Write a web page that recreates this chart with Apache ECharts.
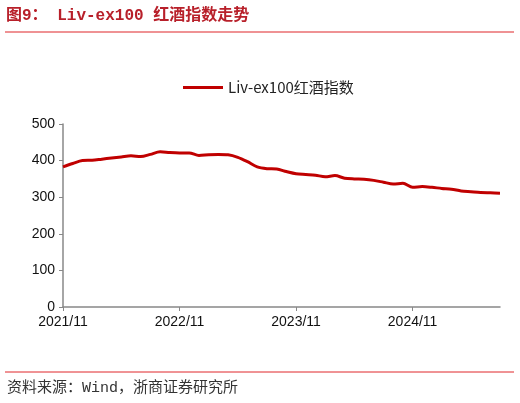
<!DOCTYPE html>
<html>
<head>
<meta charset="utf-8">
<script src="https://cdn.jsdelivr.net/npm/echarts@6/dist/echarts.min.js"></script>
<style>html,body{margin:0;padding:0;background:#fff;}#c{width:520px;height:403px;}</style>
</head>
<body>
<div id="c"></div>
<script>
const categories = [
 '2021/11','2021/12','2022/01','2022/02','2022/03','2022/04','2022/05','2022/06','2022/07','2022/08','2022/09','2022/10',
 '2022/11','2022/12','2023/01','2023/02','2023/03','2023/04','2023/05','2023/06','2023/07','2023/08','2023/09','2023/10',
 '2023/11','2023/12','2024/01','2024/02','2024/03','2024/04','2024/05','2024/06','2024/07','2024/08','2024/09','2024/10',
 '2024/11','2024/12','2025/01','2025/02','2025/03','2025/04','2025/05','2025/06','2025/07','2025/08'
];
const livex100 = [
 383,392,400,401,404,407,410,413,411,417,424,422,
 421,421,414,416,417,416,409,397,383,378,377,370,
 364,362,360,356,359,352,350,349,346,341,336,338,
 327,329,327,324,322,317,315,313,312,311
];
const yTicks = [0,100,200,300,400,500];
const seriesName = 'Liv-ex100红酒指数';

const chart = echarts.init(document.getElementById('c'));
chart.setOption({
  animation:false,
  backgroundColor:'#fff',
  graphic:[
    {type:'text',left:6,top:8,style:{text:'图9： Liv-ex100 红酒指数走势',font:'bold 16px "Liberation Mono", "Noto Sans CJK SC", monospace',fill:'#b8202a'}},
    {type:'line',shape:{x1:5,y1:32,x2:514,y2:32},style:{stroke:'#e0262b',lineWidth:1.2}},
    {type:'line',shape:{x1:5,y1:372,x2:514,y2:372},style:{stroke:'#e0262b',lineWidth:1}},
    {type:'text',left:7,top:381,style:{text:'资料来源：Wind，浙商证券研究所',font:'15px "Liberation Mono", "Noto Sans CJK SC", monospace',fill:'#333'}}
  ],
  legend:{
    top:75,left:178,
    itemWidth:40,itemHeight:3,itemGap:4,
    icon:'rect',
    textStyle:{fontSize:15,color:'#222',fontFamily:'"Noto Sans CJK SC", sans-serif'},
    data:[seriesName]
  },
  grid:{left:63,right:20,top:124,bottom:96,containLabel:false},
  xAxis:{
    type:'category',
    data:categories,
    boundaryGap:false,
    axisLine:{lineStyle:{color:'#888',width:1.5}},
    axisTick:{interval:11,length:4,lineStyle:{color:'#888'}},
    axisLabel:{interval:11,color:'#111',fontSize:14,margin:8,fontFamily:'Arial, "Liberation Sans", sans-serif'}
  },
  yAxis:{
    type:'value',
    min:yTicks[0],max:yTicks[yTicks.length-1],interval:100,
    axisLine:{show:true,lineStyle:{color:'#888',width:1.5}},
    axisTick:{show:true,length:4,lineStyle:{color:'#888'}},
    axisLabel:{color:'#111',fontSize:14,margin:8,fontFamily:'Arial, "Liberation Sans", sans-serif'},
    splitLine:{show:false}
  },
  series:[{
    name:seriesName,
    type:'line',
    data:livex100,
    showSymbol:false,
    smooth:0.3,
    lineStyle:{color:'#c00000',width:3},
    itemStyle:{color:'#c00000'}
  }]
});
</script>
</body>
</html>
